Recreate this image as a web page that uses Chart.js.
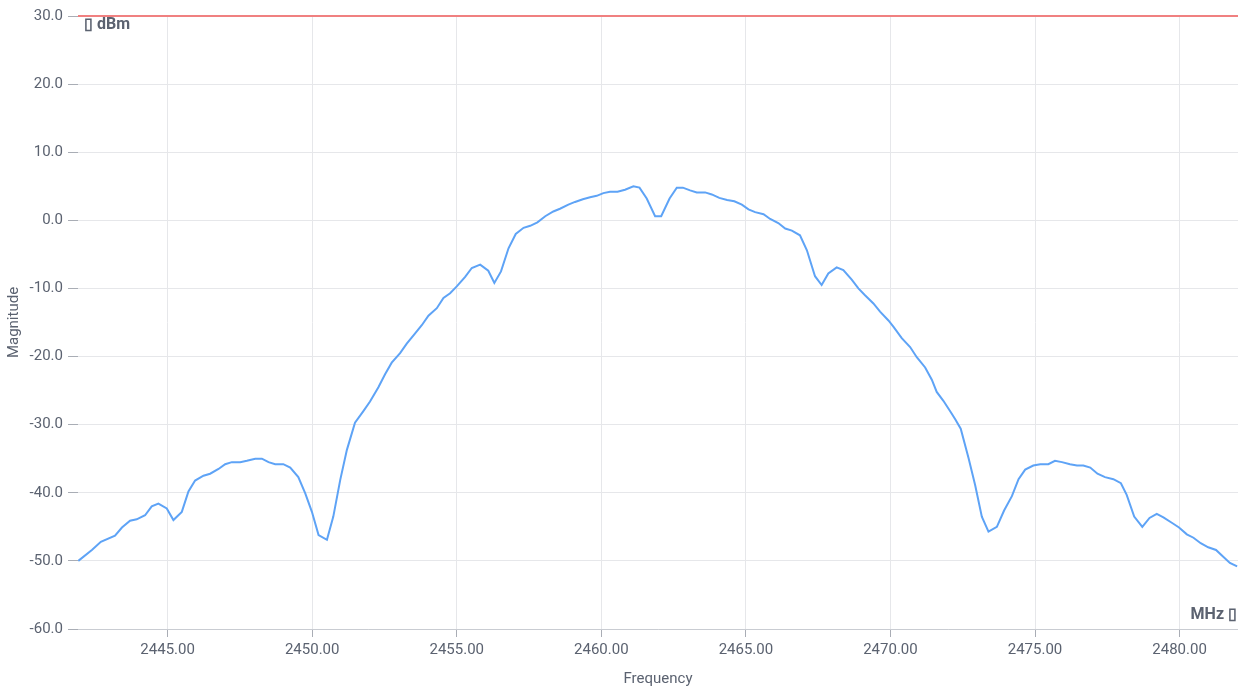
<!DOCTYPE html>
<html>
<head>
<meta charset="utf-8">
<script src="https://cdn.jsdelivr.net/npm/chart.js@4.4.0/dist/chart.umd.min.js"></script>
<style>
  html, body { margin: 0; padding: 0; background: #ffffff; }
  #wrap { width: 1238px; height: 691px; }
</style>
</head>
<body>
<div id="wrap"><canvas id="c" width="1238" height="691"></canvas></div>
<script>
// Frequency (MHz) of each measured point
const frequencies = [
  2441.91, 2442.38, 2442.69, 2443.18, 2443.42, 2443.70, 2443.93, 2444.22, 2444.45, 2444.68,
  2444.97, 2445.20, 2445.49, 2445.72, 2445.95, 2446.24, 2446.47, 2446.76, 2446.99, 2447.22,
  2447.51, 2447.74, 2448.03, 2448.26, 2448.49, 2448.72, 2449.00, 2449.24, 2449.52, 2449.76,
  2449.99, 2450.22, 2450.51, 2450.73, 2450.97, 2451.20, 2451.48, 2451.77, 2452.00, 2452.29,
  2452.52, 2452.75, 2453.04, 2453.27, 2453.56, 2453.79, 2454.02, 2454.31, 2454.54, 2454.77,
  2455.00, 2455.29, 2455.52, 2455.81, 2456.09, 2456.30, 2456.53, 2456.79, 2457.04, 2457.31,
  2457.54, 2457.79, 2458.06, 2458.34, 2458.57, 2458.86, 2459.09, 2459.36, 2459.61, 2459.84,
  2460.07, 2460.30, 2460.56, 2460.82, 2461.11, 2461.32, 2461.57, 2461.86, 2462.07, 2462.36,
  2462.61, 2462.82, 2463.07, 2463.30, 2463.59, 2463.82, 2464.08, 2464.35, 2464.60, 2464.86,
  2465.09, 2465.32, 2465.61, 2465.84, 2466.12, 2466.36, 2466.59, 2466.87, 2467.11, 2467.39,
  2467.62, 2467.85, 2468.14, 2468.37, 2468.66, 2468.89, 2469.12, 2469.41, 2469.64, 2469.93,
  2470.10, 2470.39, 2470.68, 2470.91, 2471.20, 2471.43, 2471.60, 2471.83, 2472.06, 2472.24,
  2472.43, 2472.70, 2472.93, 2473.16, 2473.39, 2473.68, 2473.93, 2474.20, 2474.43, 2474.66,
  2474.94, 2475.18, 2475.46, 2475.69, 2475.93, 2476.21, 2476.45, 2476.67, 2476.91, 2477.16,
  2477.42, 2477.71, 2477.97, 2478.17, 2478.43, 2478.71, 2478.96, 2479.21, 2479.44, 2479.73,
  2479.98, 2480.25, 2480.48, 2480.73, 2480.99, 2481.26, 2481.51, 2481.74, 2481.99
];
// Magnitude (dBm) at each frequency
const magnitudes = [
  -50.0, -48.4, -47.2, -46.3, -45.1, -44.1, -43.9, -43.3, -42.0, -41.6,
  -42.3, -44.0, -42.8, -39.8, -38.2, -37.5, -37.2, -36.5, -35.8, -35.5,
  -35.5, -35.3, -35.0, -35.0, -35.5, -35.8, -35.8, -36.3, -37.7, -40.1,
  -42.8, -46.2, -46.9, -43.5, -38.1, -33.7, -29.7, -28.0, -26.6, -24.5,
  -22.6, -20.9, -19.5, -18.1, -16.6, -15.4, -14.0, -12.9, -11.4, -10.7,
  -9.7, -8.3, -7.0, -6.5, -7.4, -9.2, -7.5, -4.1, -2.0, -1.1,
  -0.8, -0.3, 0.6, 1.3, 1.7, 2.3, 2.7, 3.1, 3.4, 3.6,
  4.0, 4.2, 4.2, 4.5, 5.0, 4.8, 3.2, 0.6, 0.6, 3.2,
  4.8, 4.8, 4.4, 4.1, 4.1, 3.8, 3.3, 3.0, 2.8, 2.3,
  1.6, 1.2, 0.9, 0.2, -0.4, -1.2, -1.5, -2.2, -4.4, -8.2,
  -9.5, -7.8, -6.9, -7.3, -8.7, -10.0, -11.0, -12.2, -13.4, -14.7,
  -15.6, -17.3, -18.6, -20.1, -21.6, -23.4, -25.2, -26.5, -28.0, -29.2,
  -30.6, -34.9, -38.9, -43.5, -45.7, -45.0, -42.6, -40.5, -38.0, -36.6,
  -36.0, -35.8, -35.8, -35.3, -35.5, -35.8, -36.0, -36.0, -36.3, -37.2,
  -37.7, -38.0, -38.6, -40.3, -43.5, -45.0, -43.7, -43.1, -43.6, -44.4,
  -45.1, -46.1, -46.6, -47.4, -48.0, -48.4, -49.4, -50.3, -50.8
];
// Limit line level (dBm)
const limitLevel = [30.0, 30.0];
// Axis ranges and tick steps
const freqRange = [2441.9, 2482.02];
const magRange = [-60, 30];
const freqStep = 5;
const magStep = 10;
// Unit labels
const yUnitLabel = "\u25AF dBm";
const xUnitLabel = "MHz \u25AF";

const textColor = '#5b6270';
const gridColor = '#e6e7ea';
const tickColor = '#a9adb5';
const fontFamily = 'Roboto, "Noto Sans", sans-serif';

const unitLabels = {
  id: 'unitLabels',
  afterDatasetsDraw(chart) {
    const { ctx, chartArea } = chart;
    ctx.save();
    ctx.fillStyle = textColor;
    ctx.font = 'bold 16px ' + fontFamily;
    ctx.textBaseline = 'middle';
    ctx.textAlign = 'left';
    ctx.fillText(yUnitLabel, chartArea.left + 6, chartArea.top + 9);
    ctx.textAlign = 'right';
    ctx.fillText(xUnitLabel, chartArea.right - 1, chartArea.bottom - 14);
    ctx.restore();
  }
};

new Chart(document.getElementById('c'), {
  type: 'line',
  data: {
    datasets: [
      {
        label: 'Magnitude',
        data: frequencies.map((f, i) => ({ x: f, y: magnitudes[i] })),
        borderColor: '#5ea3f6',
        borderWidth: 2,
        pointRadius: 0,
        tension: 0,
        fill: false
      },
      {
        label: 'Limit',
        data: [{ x: freqRange[0], y: limitLevel[0] }, { x: freqRange[1], y: limitLevel[1] }],
        borderColor: '#f08080',
        borderWidth: 2,
        pointRadius: 0,
        fill: false,
        clip: false
      }
    ]
  },
  options: {
    responsive: false,
    animation: false,
    devicePixelRatio: 1,
    layout: { padding: { top: 16, right: 0, left: 0, bottom: 0 } },
    plugins: { legend: { display: false }, tooltip: { enabled: false } },
    scales: {
      x: {
        type: 'linear',
        min: freqRange[0],
        max: freqRange[1],
        afterFit(scale) { scale.height = 62; },
        border: { display: true, color: '#c9ccd2', width: 1 },
        grid: { color: gridColor, tickColor: tickColor, tickLength: 8, lineWidth: 1 },
        ticks: {
          stepSize: freqStep,
          includeBounds: false,
          maxRotation: 0,
          padding: 4,
          color: textColor,
          font: { family: fontFamily, size: 15 },
          callback: (v) => Number(v).toFixed(2)
        },
        title: {
          display: true,
          text: 'Frequency',
          color: textColor,
          font: { family: fontFamily, size: 15 },
          padding: { top: 4, bottom: 3 }
        }
      },
      y: {
        min: magRange[0],
        max: magRange[1],
        afterFit(scale) { scale.width = 78; },
        border: { display: false },
        grid: { color: gridColor, tickColor: tickColor, tickLength: 10, lineWidth: 1 },
        ticks: {
          stepSize: magStep,
          padding: 5,
          color: textColor,
          font: { family: fontFamily, size: 15 },
          callback: (v) => Number(v).toFixed(1)
        },
        title: {
          display: true,
          text: 'Magnitude',
          color: textColor,
          font: { family: fontFamily, size: 15 },
          padding: { top: 5, bottom: 4 }
        }
      }
    }
  },
  plugins: [unitLabels]
});
</script>
</body>
</html>
